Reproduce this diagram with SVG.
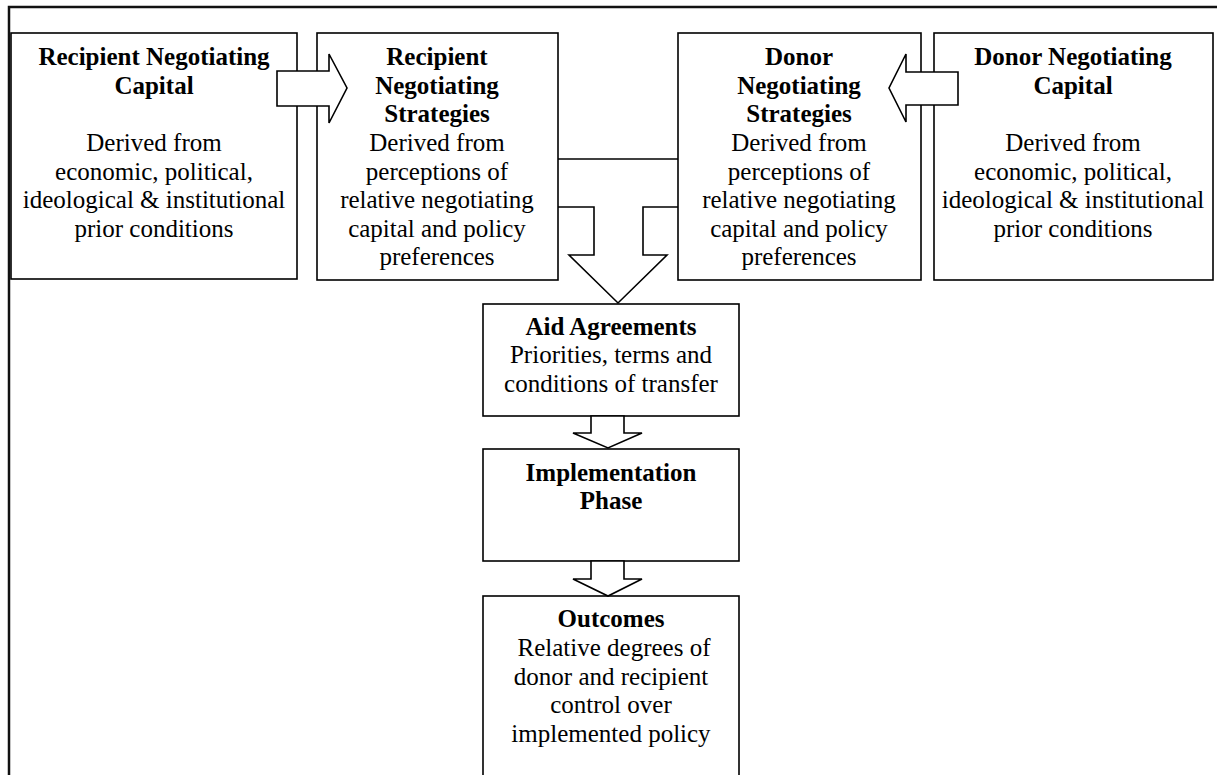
<svg xmlns="http://www.w3.org/2000/svg" width="1217" height="775" viewBox="0 0 1217 775">
<style>
  .box { fill: #ffffff; stroke: #000000; stroke-width: 1.6; }
  .arrow { fill: #ffffff; stroke: #000000; stroke-width: 1.6; stroke-linejoin: miter; }
  .line { fill: none; stroke: #000000; stroke-width: 1.6; }
  .lbl { font-size: 25px; fill: #000000; text-anchor: middle; }
  .t { font-weight: bold; }
</style>
<rect x="0" y="0" width="1217" height="775" fill="#ffffff"/>
<rect id="frame" x="9" y="7" width="1230" height="800" fill="none" stroke="#111111" stroke-width="2.5"/>

<g font-family="Liberation Serif, Times New Roman, DejaVu Serif, serif">
<g id="recipient-capital" class="lbl">
  <rect class="box" x="11" y="33" width="286" height="246"/>
  <text class="t" x="154" y="65">Recipient Negotiating</text>
  <text class="t" x="154" y="94">Capital</text>
  <text x="154" y="151">Derived from</text>
  <text x="154" y="180">economic, political,</text>
  <text x="154" y="208">ideological &amp; institutional</text>
  <text x="154" y="237">prior conditions</text>
</g>

<g id="recipient-strategies" class="lbl">
  <rect class="box" x="317" y="33" width="241" height="247"/>
  <text class="t" x="437" y="65">Recipient</text>
  <text class="t" x="437" y="94">Negotiating</text>
  <text class="t" x="437" y="122">Strategies</text>
  <text x="437" y="151">Derived from</text>
  <text x="437" y="180">perceptions of</text>
  <text x="437" y="208">relative negotiating</text>
  <text x="437" y="237">capital and policy</text>
  <text x="437" y="265">preferences</text>
</g>

<g id="donor-strategies" class="lbl">
  <rect class="box" x="678" y="33" width="243" height="247"/>
  <text class="t" x="799" y="65">Donor</text>
  <text class="t" x="799" y="94">Negotiating</text>
  <text class="t" x="799" y="122">Strategies</text>
  <text x="799" y="151">Derived from</text>
  <text x="799" y="180">perceptions of</text>
  <text x="799" y="208">relative negotiating</text>
  <text x="799" y="237">capital and policy</text>
  <text x="799" y="265">preferences</text>
</g>

<g id="donor-capital" class="lbl">
  <rect class="box" x="934" y="33" width="279" height="247"/>
  <text class="t" x="1073" y="65">Donor Negotiating</text>
  <text class="t" x="1073" y="94">Capital</text>
  <text x="1073" y="151">Derived from</text>
  <text x="1073" y="180">economic, political,</text>
  <text x="1073" y="208">ideological &amp; institutional</text>
  <text x="1073" y="237">prior conditions</text>
</g>

<g id="aid-agreements" class="lbl">
  <rect class="box" x="483" y="304" width="256" height="112"/>
  <text class="t" x="611" y="335">Aid Agreements</text>
  <text x="611" y="363">Priorities, terms and</text>
  <text x="611" y="392">conditions of transfer</text>
</g>

<g id="implementation" class="lbl">
  <rect class="box" x="483" y="449" width="256" height="112"/>
  <text class="t" x="611" y="481">Implementation</text>
  <text class="t" x="611" y="509">Phase</text>
</g>

<g id="outcomes" class="lbl">
  <rect class="box" x="483" y="596" width="256" height="200"/>
  <text class="t" x="611" y="627">Outcomes</text>
  <text x="614" y="656">Relative degrees of</text>
  <text x="611" y="685">donor and recipient</text>
  <text x="611" y="713">control over</text>
  <text x="611" y="742">implemented policy</text>
</g>
</g>

<g id="connectors">
  <polygon class="arrow" points="277,71 329,71 329,54 347,88 329,123 329,106 277,106"/>
  <polygon class="arrow" points="958,72 906,72 906,54 889,88 906,122 906,105 958,105"/>
  <line class="line" x1="558" y1="159" x2="678" y2="159"/>
  <polyline class="line" points="558,207 594,207 594,255 569,255 618,303 667,255 643,255 643,207 678,207"/>
  <polygon class="arrow" points="591,416 591,433 573,433 608,448 642,433 624,433 624,416"/>
  <polygon class="arrow" points="591,561 591,579 573,579 608,596 642,579 624,579 624,561"/>
</g>
</svg>
